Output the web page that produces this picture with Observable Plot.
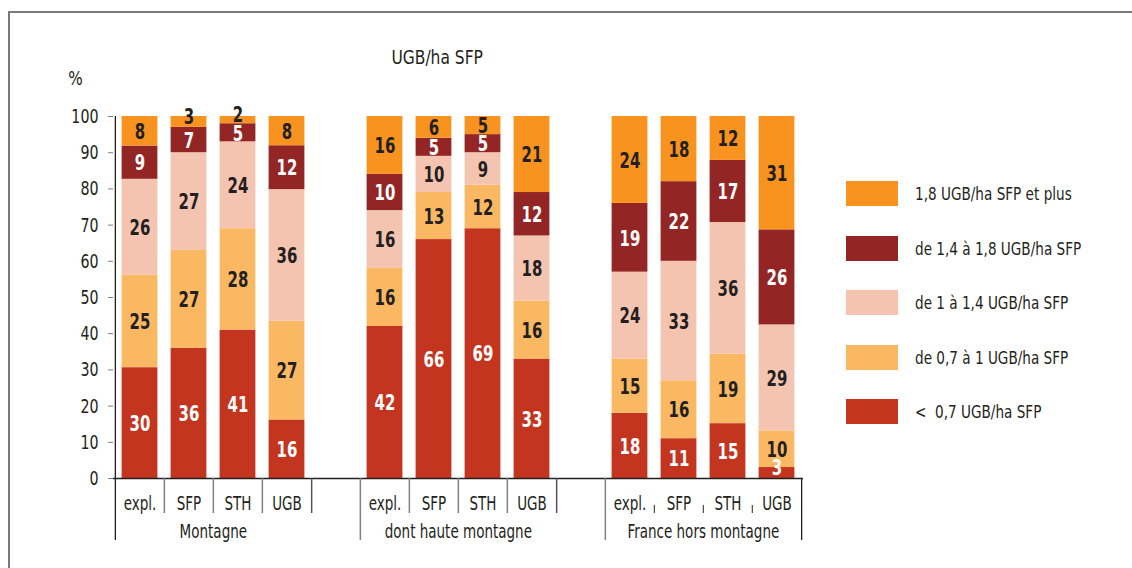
<!DOCTYPE html>
<html>
<head>
<meta charset="utf-8">
<script src="https://cdn.jsdelivr.net/npm/d3@7"></script>
<script src="https://cdn.jsdelivr.net/npm/@observablehq/plot@0.6"></script>
<style>
  html, body { margin: 0; padding: 0; background: #fff; }
  #wrap { position: relative; width: 1132px; height: 568px; overflow: hidden;
          font-family: "Liberation Sans Narrow", "DejaVu Sans Condensed", "DejaVu Sans", sans-serif; color: #231f20; }
  #frame { position: absolute; left: 8px; top: 11px; width: 1300px; height: 800px; border: 2px solid #7a7a7a; box-sizing: border-box; }
  #chart { position: absolute; left: 0; top: 0; }
  #title { position: absolute; left: 337px; width: 200px; top: 45px; text-align: center; font-size: 20px; }
  #title span { display: inline-block; transform: scaleX(0.86); }
  #pct { position: absolute; left: 67px; top: 66px; font-size: 20px; }
  #pct span { display: inline-block; transform: scaleX(0.85); }
  #legend { position: absolute; left: 846px; top: 181px; }
  .row { display: flex; align-items: center; height: 25px; margin-bottom: 29.5px; }
  .sw { width: 52px; height: 25px; margin-right: 17px; flex: none; }
  .lab { font-size: 18px; white-space: pre; display: inline-block; transform: scaleX(0.84); transform-origin: left center; }
</style>
</head>
<body>
<div id="wrap">
  <div id="frame"></div>
  <div id="chart"></div>
  <div id="title"><span>UGB/ha SFP</span></div>
  <div id="pct"><span>%</span></div>
  <div id="legend"></div>
</div>
<script>
// ---- data ----
const groups = ["Montagne", "dont haute montagne", "France hors montagne"];
const categories = ["expl.", "SFP", "STH", "UGB"];
const classes = ["< 0,7", "0,7-1", "1-1,4", "1,4-1,8", "1,8+"];
const classLabels = ["<  0,7 UGB/ha SFP", "de 0,7 à 1 UGB/ha SFP", "de 1 à 1,4 UGB/ha SFP", "de 1,4 à 1,8 UGB/ha SFP", "1,8 UGB/ha SFP et plus"];
const classColors = ["#c4351f", "#fbb862", "#f4c4b1", "#932625", "#f7931e"];
const whiteTextClasses = ["< 0,7", "1,4-1,8"];
// values per category (expl., SFP, STH, UGB), bottom class first
const montagne      = [[30, 25, 26, 9, 8], [36, 27, 27, 7, 3], [41, 28, 24, 5, 2], [16, 27, 36, 12, 8]];
const hauteMontagne = [[42, 16, 16, 10, 16], [66, 13, 10, 5, 6], [69, 12, 9, 5, 5], [33, 16, 18, 12, 21]];
const horsMontagne  = [[18, 15, 24, 19, 24], [11, 16, 33, 22, 18], [15, 19, 36, 17, 12], [3, 10, 29, 26, 31]];
const yTicks = [0, 10, 20, 30, 40, 50, 60, 70, 80, 90, 100];

// ---- build table ----
const groupValues = [montagne, hauteMontagne, horsMontagne];
const slots = [];
groups.forEach((g, gi) => {
  categories.forEach(c => slots.push(g + "|" + c));
  if (gi < groups.length - 1) slots.push("gap" + gi);
});
const data = [];
groups.forEach((g, gi) => categories.forEach((c, ci) => classes.forEach((k, ki) => {
  data.push({slot: g + "|" + c, group: g, cat: c, cls: k, value: groupValues[gi][ci][ki]});
})));

// ---- layout ----
const W = 820, H = 568, ML = 113, MR = 17, MT = 116, MB = 90;
const step = (W - ML - MR) / slots.length;
const pxToUnit = 1 / (H - MT - MB);
const long = 62 * pxToUnit, mid = 35 * pxToUnit;

const groupStart = groups.map(g => g + "|" + categories[0]);
const innerEdges = slots.filter(s => !s.startsWith("gap") && !s.endsWith("|" + categories[0]));
const innerMed = innerEdges.filter(s => !s.startsWith(groups[2]));
const innerShort = innerEdges.filter(s => s.startsWith(groups[2]));
const groupEndMed = [groups[0], groups[1]].map(g => g + "|" + categories[3]);
const lastSlot = groups[2] + "|" + categories[3];
const labelSlot = groups.map(g => ({g, slot: g + "|" + categories[2]}));

const stk = (extra) => Plot.stackY({offset: "normalize", x: "slot", y: "value", ...extra});
const txt = (white, small, dy) => Plot.text(data, stk({
  text: d => (whiteTextClasses.includes(d.cls) === white && (d.value <= 3) === small) ? d.value : null,
  fill: white ? "#ffffff" : "#231f20", fontSize: 21, fontWeight: "bold", dy
}));

const plot = Plot.plot({
  width: W, height: H, marginLeft: ML, marginRight: MR, marginTop: MT, marginBottom: MB,
  style: {fontFamily: "'Liberation Sans Narrow', 'DejaVu Sans Condensed', 'DejaVu Sans', sans-serif", fontSize: "17px", color: "#231f20", background: "transparent", overflow: "visible"},
  x: {domain: slots, paddingInner: 0, paddingOuter: 0, axis: null},
  y: {domain: [0, 1], axis: null},
  color: {domain: classes, range: classColors},
  marks: [
    Plot.barY(data, stk({fill: "cls", insetLeft: 6.6, insetRight: 6.6})),
    txt(true, false, 1), txt(false, false, 1), txt(true, true, -5), txt(false, true, -5),
    Plot.axisY({ticks: yTicks.map(t => t / 100), tickFormat: d => Math.round(d * 100), tickSize: 5, tickPadding: 10, fontSize: 20, stroke: "#808080", fill: "#231f20", label: null}),
    Plot.axisX({tickSize: 0, tickPadding: 18, tickFormat: d => d.startsWith("gap") ? "" : d.split("|")[1], fontSize: 19, fill: "#231f20", label: null}),
    Plot.ruleY([0], {stroke: "#231f20", strokeWidth: 1.3}),
    // y axis line extended down
    Plot.ruleX([groupStart[0]], {x: d => d, dx: -step / 2, y1: 1, y2: -long, stroke: "#231f20", strokeWidth: 1.3}),
    Plot.ruleX(groupStart.slice(1), {x: d => d, dx: -step / 2, y1: 0, y2: -long, stroke: "#808080", strokeWidth: 1.5}),
    Plot.ruleX([lastSlot], {x: d => d, dx: step / 2, y1: 0, y2: -long, stroke: "#231f20", strokeWidth: 1.3}),
    Plot.ruleX(innerMed, {x: d => d, dx: -step / 2, y1: 0, y2: -mid, stroke: "#808080", strokeWidth: 1.5}),
    Plot.ruleX(groupEndMed, {x: d => d, dx: step / 2, y1: 0, y2: -mid, stroke: "#555", strokeWidth: 1.5}),
    Plot.ruleX(innerShort, {x: d => d, dx: -step / 2, y1: -27 * pxToUnit, y2: -35 * pxToUnit, stroke: "#555", strokeWidth: 1.3}),
    Plot.text(labelSlot, {x: "slot", text: "g", frameAnchor: "bottom", dx: -step / 2, dy: 59, fontSize: 19, fill: "#231f20"})
  ]
});
document.getElementById("chart").appendChild(plot);
// condense the glyphs horizontally (the reference uses a condensed face)
d3.select(plot).selectAll("text").each(function () {
  const L = this.getComputedTextLength();
  if (L > 0) {
    this.setAttribute("textLength", (L * 0.79).toFixed(2));
    this.setAttribute("lengthAdjust", "spacingAndGlyphs");
  }
});

// legend (top class first)
const leg = document.getElementById("legend");
for (let i = classes.length - 1; i >= 0; i--) {
  const row = document.createElement("div");
  row.className = "row";
  row.innerHTML = `<div class="sw" style="background:${classColors[i]}"></div><div class="lab"></div>`;
  row.querySelector(".lab").textContent = classLabels[i];
  leg.appendChild(row);
}
</script>
</body>
</html>
